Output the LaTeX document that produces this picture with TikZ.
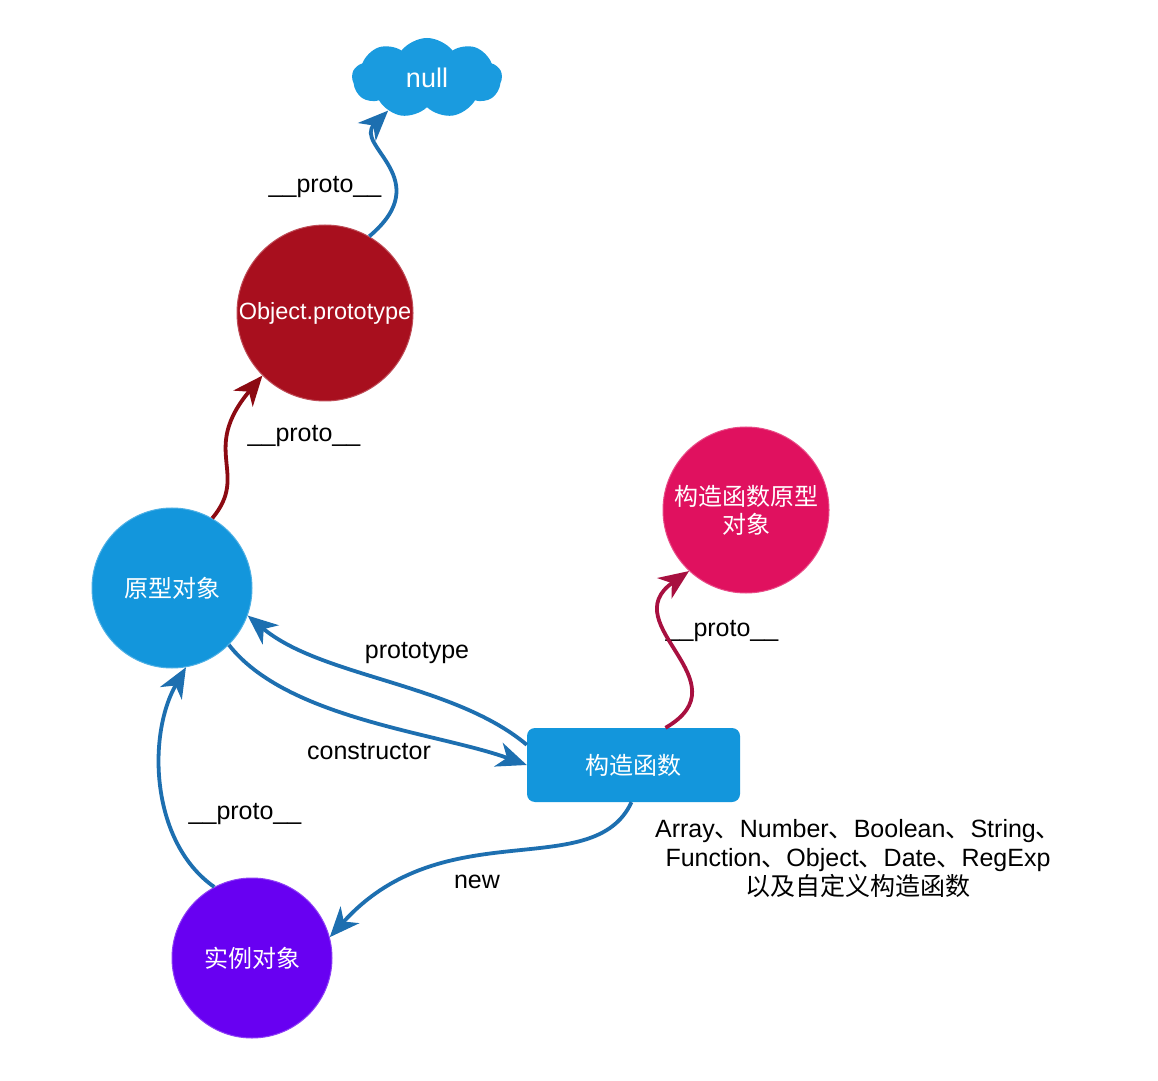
\documentclass[tikz,border=0pt]{standalone}
\usepackage{fontspec}
\setmainfont{Liberation Sans}
\newfontfamily\cjk{Noto Sans CJK SC}
\usetikzlibrary{arrows.meta, shapes.symbols}
\definecolor{nullblue}{HTML}{1A9BDF}
\definecolor{objred}{HTML}{A80F1E}
\definecolor{protoblue}{HTML}{1396DC}
\definecolor{cppink}{HTML}{E0115F}
\definecolor{instpurple}{HTML}{6800F2}
\definecolor{arrowblue}{HTML}{1D6FB0}
\definecolor{arrowred}{HTML}{8C0A12}
\definecolor{arrowpink}{HTML}{A81040}
\tikzset{
	x=1pt, y=1pt, % one unit is one pixel of the sketch
	ball/.style={circle, fill=#1, draw=#1!75!white, line width=1pt, text=white, inner sep=0pt, align=center, font=\cjk\fontsize{24}{28}\selectfont}, % the round objects
	box/.style={rectangle, rounded corners=8pt, fill=protoblue, text=white, minimum width=213pt, minimum height=74pt, font=\cjk\fontsize{24}{28}\selectfont}, % the constructor box
	lbl/.style={font=\fontsize{25}{29}\selectfont}, % the texts beside the arrows
	link/.style={line width=3.8pt, -{Stealth[length=30pt,width=25pt,inset=9pt]}}, % the wavy arrows
}

\begin{document}
\begin{tikzpicture}
		\useasboundingbox (0,0) rectangle (1158,1080);
		\fill[white] (0,0) rectangle (1158,1080);

		\node[cloud, cloud puffs=9, cloud puff arc=105, aspect=1.9, fill=nullblue, minimum width=150pt, minimum height=80pt, text=white, font=\fontsize{27}{32}\selectfont] (null) at (427,1002) {null};
		\node[ball=objred, minimum size=176pt, font=\fontsize{23.5}{28}\selectfont] (op) at (325,767) {Object.prototype};
		\node[ball=protoblue, minimum size=160pt] (proto) at (172,492) {原型对象};
		\node[ball=cppink, minimum size=166pt] (cp) at (746,570) {构造函数原型\\对象};
		\node[box] (fn) at (633.5,315) {构造函数};
		\node[ball=instpurple, minimum size=160pt] (inst) at (252,122) {实例对象};

		\node[lbl] (l1) at (325,893) {\_\_proto\_\_};
		\node[lbl] (l2) at (304,644) {\_\_proto\_\_};
		\node[lbl] (l3) at (417,427) {prototype};
		\node[lbl] (l4) at (369,328) {constructor};
		\node[lbl] (l5) at (722,449) {\_\_proto\_\_};
		\node[lbl] (l6) at (245,266) {\_\_proto\_\_};
		\node[lbl] (l7) at (477,198) {new};
		\node[lbl, align=center] (l8) at (858,221) {Array{\cjk 、}Number{\cjk 、}Boolean{\cjk 、}String{\cjk 、}\\Function{\cjk 、}Object{\cjk 、}Date{\cjk 、}RegExp\\{\cjk 以及自定义构造函数}};

		\draw[arrowblue]
				(op.60) edge[link, out=40, in=225, out looseness=1.8, in looseness=1] (null.220)
				([yshift=-17pt]fn.north west) edge[link, out=140, in=-40, looseness=0.8] (proto.-20)
				(proto.-45) edge[link, out=-52, in=160, looseness=0.75] (fn.west)
				(inst.118) edge[link, out=145, in=240, looseness=0.9] (proto.-80)
				([xshift=-2pt]fn.south) edge[link, out=245, in=48, out looseness=0.7, in looseness=1.32] (inst.15);
		\draw[arrowred] (proto.60) edge[link, out=50, in=230, out looseness=1, in looseness=1.67] (op.225);
		\draw[arrowpink] ([xshift=32pt]fn.north) edge[link, out=30, in=215, looseness=1.5] (cp.227);
	\end{tikzpicture}
\end{document}
